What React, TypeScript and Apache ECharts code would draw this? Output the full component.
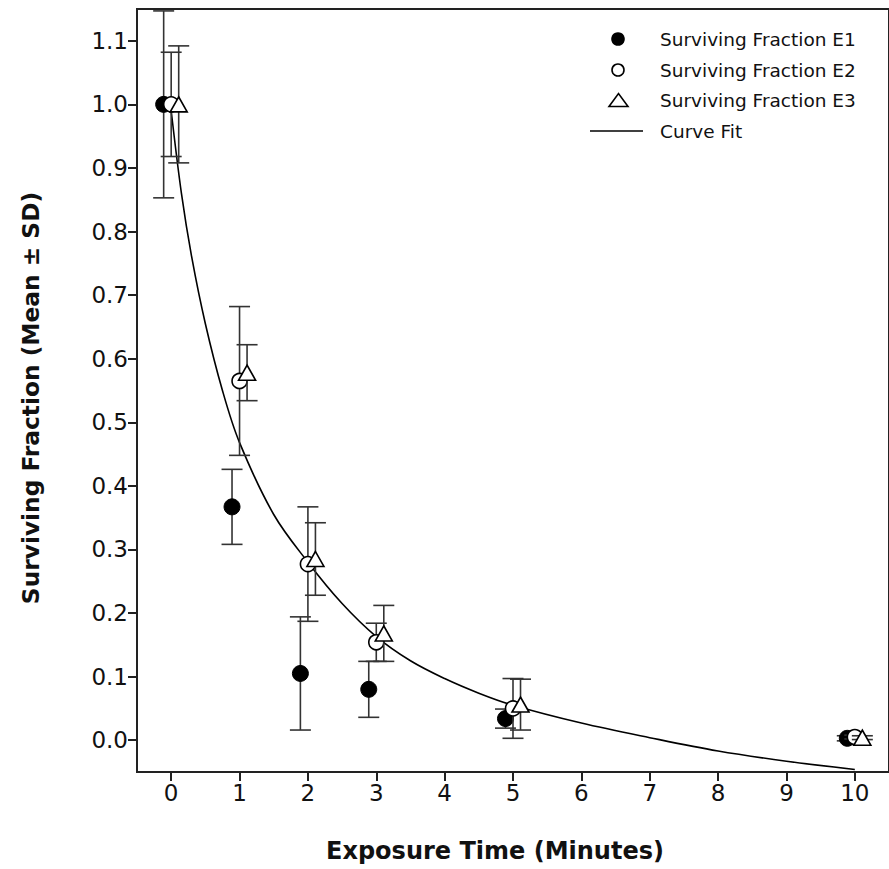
import React, { useEffect, useRef } from "react";
import * as echarts from "echarts";

// Exposure times (minutes)
const exposureTimes = [0, 1, 2, 3, 5, 10];

// Surviving fraction means and SDs for each experiment
const e1Mean = [1.0, 0.367, 0.105, 0.08, 0.034, 0.003];
const e1Sd = [0.147, 0.059, 0.089, 0.044, 0.015, 0.004];
const e2Mean = [1.0, 0.565, 0.277, 0.154, 0.05, 0.005];
const e2Sd = [0.082, 0.117, 0.09, 0.03, 0.047, 0.003];
const e3Mean = [1.0, 0.578, 0.285, 0.168, 0.056, 0.004];
const e3Sd = [0.092, 0.044, 0.057, 0.044, 0.04, 0.003];

// Curve fit
const fitTimes = [0, 0.15, 0.3, 0.5, 0.75, 1, 1.5, 2, 2.5, 3, 3.5, 4, 4.5, 5, 6, 7, 8, 9, 10];
const fitValues = [0.99, 0.86, 0.76, 0.655, 0.55, 0.468, 0.355, 0.28, 0.215, 0.163, 0.125, 0.097, 0.074, 0.055, 0.027, 0.004, -0.017, -0.033, -0.046];

// Tick labels
const xTicks = [0, 1, 2, 3, 4, 5, 6, 7, 8, 9, 10];
const yTicks = [0.0, 0.1, 0.2, 0.3, 0.4, 0.5, 0.6, 0.7, 0.8, 0.9, 1.0, 1.1];

const legendNames = ["Surviving Fraction E1", "Surviving Fraction E2", "Surviving Fraction E3", "Curve Fit"];

const FONT = "DejaVu Sans";
const INK = "#111";

function points(mean: number[], dodge: number) {
  return exposureTimes.map((t, i) => [t + dodge, mean[i]]);
}
function bars(mean: number[], sd: number[], dodge: number) {
  return exposureTimes.map((t, i) => [t + dodge, mean[i] - sd[i], mean[i] + sd[i]]);
}

function errorRender(params: any, api: any) {
  const x = api.value(0);
  const lo = api.coord([x, api.value(1)]);
  const hi = api.coord([x, api.value(2)]);
  const hw = 10.5;
  const style = { stroke: "#333", lineWidth: 1.6 };
  return {
    type: "group",
    children: [
      { type: "line", shape: { x1: hi[0], y1: hi[1], x2: lo[0], y2: lo[1] }, style },
      { type: "line", shape: { x1: hi[0] - hw, y1: hi[1], x2: hi[0] + hw, y2: hi[1] }, style },
      { type: "line", shape: { x1: lo[0] - hw, y1: lo[1], x2: lo[0] + hw, y2: lo[1] }, style },
    ],
  };
}

export default function App() {
  const ref = useRef<HTMLDivElement>(null);
  useEffect(() => {
    document.body.style.margin = "0";
    const chart = echarts.init(ref.current!, null, { renderer: "svg" });
    const dodge = [-0.11, 0, 0.11];
    const legendY = [39, 70, 100, 131];
    const option: any = {
      animation: false,
      backgroundColor: "#fff",
      grid: { left: 137, top: 9, right: -11, bottom: 97, show: true, borderColor: "#222", borderWidth: 2 },
      xAxis: {
        type: "value",
        min: -0.5,
        max: 10.5,
        splitLine: { show: false },
        axisLine: { show: true, onZero: false, lineStyle: { color: "#222", width: 2 } },
        axisTick: { show: true, customValues: xTicks, length: 9, lineStyle: { color: "#222", width: 2 } },
        axisLabel: {
          customValues: xTicks,
          margin: 9,
          fontFamily: FONT,
          fontSize: 23,
          color: INK,
          formatter: (v: number) => String(Math.round(v)),
        },
      },
      yAxis: {
        type: "value",
        min: -0.05,
        max: 1.15,
        splitLine: { show: false },
        axisLine: { show: true, onZero: false, lineStyle: { color: "#222", width: 2 } },
        axisTick: { show: true, customValues: yTicks, length: 9, lineStyle: { color: "#222", width: 2 } },
        axisLabel: {
          customValues: yTicks,
          margin: 9,
          fontFamily: FONT,
          fontSize: 23,
          color: INK,
          formatter: (v: number) => v.toFixed(1),
        },
      },
      series: [
        {
          name: "Curve Fit",
          type: "line",
          data: fitTimes.map((t, i) => [t, fitValues[i]]),
          smooth: 0.35,
          showSymbol: false,
          lineStyle: { color: "#000", width: 1.6 },
          z: 1,
        },
        { type: "custom", renderItem: errorRender, data: bars(e1Mean, e1Sd, dodge[0]), encode: { x: 0, y: [1, 2] }, z: 2 },
        {
          name: legendNames[0],
          type: "scatter",
          data: points(e1Mean, dodge[0]),
          symbol: "circle",
          symbolSize: 16,
          itemStyle: { color: "#000", borderColor: "#000", borderWidth: 1, opacity: 1 },
          z: 3,
        },
        { type: "custom", renderItem: errorRender, data: bars(e2Mean, e2Sd, dodge[1]), encode: { x: 0, y: [1, 2] }, z: 4 },
        {
          name: legendNames[1],
          type: "scatter",
          data: points(e2Mean, dodge[1]),
          symbol: "circle",
          symbolSize: 15,
          itemStyle: { color: "#fff", borderColor: "#000", borderWidth: 1.6, opacity: 1 },
          z: 5,
        },
        { type: "custom", renderItem: errorRender, data: bars(e3Mean, e3Sd, dodge[2]), encode: { x: 0, y: [1, 2] }, z: 6 },
        {
          name: legendNames[2],
          type: "scatter",
          data: points(e3Mean, dodge[2]),
          symbol: "triangle",
          symbolSize: [17, 15],
          itemStyle: { color: "#fff", borderColor: "#000", borderWidth: 1.6, opacity: 1 },
          z: 7,
        },
      ],
      graphic: [
        // Legend symbols
        { type: "circle", shape: { cx: 618, cy: legendY[0], r: 6.8 }, style: { fill: "#000" } },
        { type: "circle", shape: { cx: 618, cy: legendY[1], r: 6 }, style: { fill: "#fff", stroke: "#000", lineWidth: 1.6 } },
        {
          type: "polygon",
          shape: { points: [[609, legendY[2] + 6.5], [628, legendY[2] + 6.5], [618.5, legendY[2] - 6.5]] },
          style: { fill: "#fff", stroke: "#000", lineWidth: 1.6 },
        },
        { type: "line", shape: { x1: 590, y1: legendY[3], x2: 643, y2: legendY[3] }, style: { stroke: "#000", lineWidth: 1.6 } },
        ...legendNames.map((n, i) => ({
          type: "text",
          x: 660,
          y: legendY[i],
          style: { text: n, fontFamily: FONT, fontSize: 18.5, fill: INK, verticalAlign: "middle", align: "left" },
        })),
        // Axis titles
        {
          type: "text",
          x: 495,
          y: 851,
          style: {
            text: "Exposure Time (Minutes)",
            fontFamily: FONT,
            fontWeight: "bold",
            fontSize: 24,
            fill: INK,
            align: "center",
            verticalAlign: "middle",
          },
        },
        {
          type: "text",
          x: 30,
          y: 398,
          rotation: Math.PI / 2,
          style: {
            text: "Surviving Fraction (Mean ± SD)",
            fontFamily: FONT,
            fontWeight: "bold",
            fontSize: 23.3,
            fill: INK,
            align: "center",
            verticalAlign: "middle",
          },
        },
      ],
    };
    chart.setOption(option);
    return () => chart.dispose();
  }, []);
  return <div ref={ref} style={{ width: 889, height: 869 }} />;
}
